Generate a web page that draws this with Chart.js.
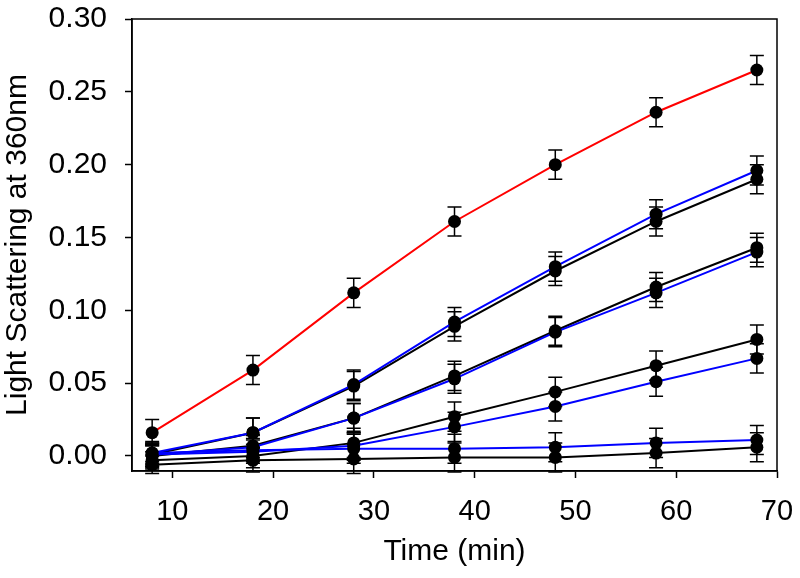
<!DOCTYPE html>
<html>
<head>
<meta charset="utf-8">
<script src="https://cdn.jsdelivr.net/npm/chart.js@4.4.1/dist/chart.umd.min.js"></script>
<style>
  html, body { margin: 0; padding: 0; background: #fff; }
  #chart { display: block; }
</style>
</head>
<body>
<canvas id="chart" width="800" height="578"></canvas>
<script>
const timeMin = [8, 18, 28, 38, 48, 58, 68];

const redSeries = [0.016, 0.059, 0.112, 0.161, 0.200, 0.236, 0.265];
const blueA = [0.002, 0.016, 0.049, 0.092, 0.130, 0.166, 0.196];
const blackA = [0.001, 0.016, 0.048, 0.089, 0.127, 0.161, 0.190];
const blackB = [0.000, 0.007, 0.026, 0.055, 0.086, 0.116, 0.143];
const blueB = [0.001, 0.006, 0.026, 0.053, 0.085, 0.112, 0.140];
const blackC = [-0.003, 0.000, 0.009, 0.027, 0.044, 0.062, 0.080];
const blueC = [0.001, 0.003, 0.007, 0.020, 0.034, 0.051, 0.067];
const blueD = [0.002, 0.004, 0.005, 0.005, 0.006, 0.009, 0.011];
const blackD = [-0.006, -0.003, -0.002, -0.001, -0.001, 0.002, 0.006];

const redErr = [0.009, 0.010, 0.010, 0.010, 0.010, 0.010, 0.010];
const blueAErr = [0.008, 0.010, 0.010, 0.010, 0.010, 0.010, 0.010];
const blackAErr = [0.008, 0.010, 0.010, 0.010, 0.010, 0.010, 0.010];
const blackBErr = [0.008, 0.008, 0.010, 0.010, 0.010, 0.010, 0.010];
const blueBErr = [0.008, 0.008, 0.010, 0.010, 0.010, 0.010, 0.010];
const blackCErr = [0.006, 0.008, 0.010, 0.010, 0.010, 0.010, 0.010];
const blueCErr = [0.006, 0.008, 0.010, 0.010, 0.010, 0.010, 0.010];
const blueDErr = [0.006, 0.008, 0.010, 0.010, 0.010, 0.010, 0.010];
const blackDErr = [0.006, 0.008, 0.010, 0.010, 0.010, 0.010, 0.010];

const xTicks = [10, 20, 30, 40, 50, 60, 70];
const yTicks = [0.00, 0.05, 0.10, 0.15, 0.20, 0.25, 0.30];

const FONT = "'Liberation Sans', Arial, sans-serif";

function makeSet(values, errors, color) {
  return {
    data: values.map((v, i) => ({ x: timeMin[i], y: v })),
    errors,
    borderColor: color,
    borderWidth: 2,
    backgroundColor: "#000",
    pointBackgroundColor: "#000",
    pointBorderColor: "#000",
    pointRadius: 6.5,
    pointBorderWidth: 0,
    tension: 0,
    fill: false,
  };
}

const errorBars = {
  id: "errorBars",
  beforeDatasetsDraw(chart) {
    const ctx = chart.ctx;
    const yScale = chart.scales.y;
    ctx.save();
    ctx.strokeStyle = "#000";
    ctx.lineWidth = 1.5;
    chart.data.datasets.forEach((ds, di) => {
      const meta = chart.getDatasetMeta(di);
      meta.data.forEach((pt, i) => {
        const v = ds.data[i].y;
        const e = ds.errors[i];
        const top = yScale.getPixelForValue(v + e);
        const bot = yScale.getPixelForValue(v - e);
        ctx.beginPath();
        ctx.moveTo(pt.x, top);
        ctx.lineTo(pt.x, bot);
        ctx.moveTo(pt.x - 7, top);
        ctx.lineTo(pt.x + 7, top);
        ctx.moveTo(pt.x - 7, bot);
        ctx.lineTo(pt.x + 7, bot);
        ctx.stroke();
      });
    });
    ctx.restore();
  },
  afterDraw(chart) {
    const a = chart.chartArea;
    const ctx = chart.ctx;
    ctx.save();
    ctx.strokeStyle = "#000";
    ctx.lineWidth = 1.5;
    ctx.strokeRect(a.left, a.top, a.right - a.left, a.bottom - a.top);
    ctx.restore();
  },
};

new Chart(document.getElementById("chart"), {
  type: "line",
  data: {
    datasets: [
      makeSet(blueD, blueDErr, "#0000ff"),
      makeSet(blackD, blackDErr, "#000000"),
      makeSet(blueC, blueCErr, "#0000ff"),
      makeSet(blackC, blackCErr, "#000000"),
      makeSet(blueB, blueBErr, "#0000ff"),
      makeSet(blackB, blackBErr, "#000000"),
      makeSet(blueA, blueAErr, "#0000ff"),
      makeSet(blackA, blackAErr, "#000000"),
      makeSet(redSeries, redErr, "#ff0000"),
    ],
  },
  options: {
    responsive: false,
    animation: false,
    devicePixelRatio: 1,
    layout: { padding: { top: 19, right: 23, left: 0, bottom: 0 } },
    plugins: { legend: { display: false }, tooltip: { enabled: false } },
    scales: {
      x: {
        type: "linear",
        min: 6,
        max: 70,
        afterBuildTicks: (s) => { s.ticks = xTicks.map((v) => ({ value: v })); },
        afterFit: (s) => { s.height = 107; s.paddingLeft = 0; s.paddingRight = 0; },
        grid: { drawOnChartArea: false, drawTicks: true, tickLength: 7, tickColor: "#000", tickWidth: 1.5 },
        border: { display: true, color: "#000", width: 1.5 },
        ticks: { color: "#000", padding: 17, maxRotation: 0, font: { family: FONT, size: 29 } },
        title: { display: true, text: "Time (min)", color: "#000", padding: { top: 0, bottom: 8 }, font: { family: FONT, size: 30 } },
      },
      y: {
        min: -0.0103,
        max: 0.30,
        afterBuildTicks: (s) => { s.ticks = yTicks.map((v) => ({ value: v })); },
        afterFit: (s) => { s.width = 132; s.paddingTop = 0; s.paddingBottom = 0; },
        grid: { drawOnChartArea: false, drawTicks: true, tickLength: 7, tickColor: "#000", tickWidth: 1.5 },
        border: { display: true, color: "#000", width: 1.5 },
        ticks: { color: "#000", padding: 18, font: { family: FONT, size: 30 }, callback: (v) => Number(v).toFixed(2) },
        title: { display: true, text: "Light Scattering at 360nm", color: "#000", padding: { top: 0, bottom: 4 }, font: { family: FONT, size: 30 } },
      },
    },
  },
  plugins: [errorBars],
});
</script>
</body>
</html>
